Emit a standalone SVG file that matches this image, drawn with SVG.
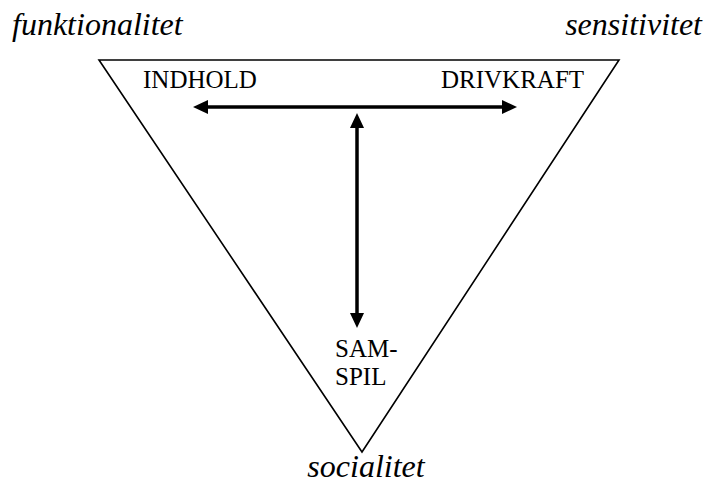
<svg xmlns="http://www.w3.org/2000/svg" width="704" height="486" viewBox="0 0 704 486">
<style>
.lbl{font-size:25px;fill:#000}
.it{font-size:32px;font-style:italic;fill:#000}
.conn{stroke:#000;stroke-width:3.5;fill:none}
</style>
<defs>
<marker id="ah" markerUnits="userSpaceOnUse" markerWidth="16" markerHeight="16" refX="7" refY="7" orient="auto-start-reverse" viewBox="0 0 16 14">
<path d="M0,0 L15,7 L0,14 z" fill="#000"/>
</marker>
</defs>
<rect width="704" height="486" fill="#fff"/>
<g id="triangle">
<polygon points="99,60 619,60 362,452" fill="none" stroke="#000" stroke-width="1.6"/>
</g>
<g id="corner-labels" font-family="Liberation Serif">
<text class="it" font-family="Liberation Serif" x="12" y="35">funktionalitet</text>
<text class="it" font-family="Liberation Serif" x="702" y="35" text-anchor="end">sensitivitet</text>
<text class="it" font-family="Liberation Serif" x="366" y="477" text-anchor="middle">socialitet</text>
</g>
<g id="node-indhold"><text class="lbl" font-family="Liberation Serif" x="143" y="88">INDHOLD</text></g>
<g id="node-drivkraft"><text class="lbl" font-family="Liberation Serif" x="441" y="88">DRIVKRAFT</text></g>
<g id="node-samspil">
<text class="lbl" font-family="Liberation Serif" x="335" y="357">SAM-</text>
<text class="lbl" font-family="Liberation Serif" x="335" y="385">SPIL</text>
</g>
<g id="connectors">
<line class="conn" x1="201" y1="107" x2="509" y2="107" marker-start="url(#ah)" marker-end="url(#ah)"/>
<line class="conn" x1="357" y1="121" x2="357" y2="320" stroke-width="3" marker-start="url(#ah)" marker-end="url(#ah)"/>
</g>
</svg>
